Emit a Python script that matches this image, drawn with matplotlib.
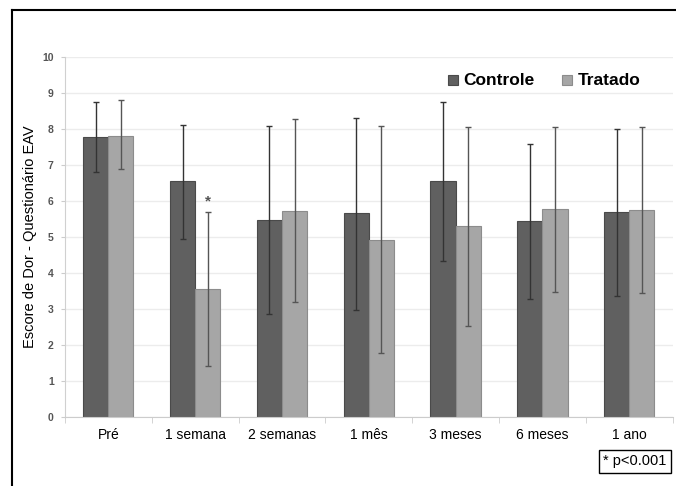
import numpy as np
import matplotlib.pyplot as plt
from matplotlib.lines import Line2D

categorias = ["Pré", "1 semana", "2 semanas", "1 mês", "3 meses", "6 meses", "1 ano"]

controle = [7.78, 6.54, 5.47, 5.66, 6.54, 5.44, 5.69]
controle_baixo = [6.80, 4.94, 2.85, 2.97, 4.33, 3.28, 3.37]
controle_alto = [8.76, 8.11, 8.08, 8.31, 8.76, 7.58, 8.00]

tratado = [7.81, 3.55, 5.73, 4.92, 5.29, 5.77, 5.74]
tratado_baixo = [6.88, 1.42, 3.19, 1.79, 2.54, 3.46, 3.45]
tratado_alto = [8.79, 5.68, 8.28, 8.07, 8.05, 8.06, 8.04]

plt.rcParams['font.family'] = ['Liberation Sans', 'DejaVu Sans']

fig = plt.figure(figsize=(6.76, 4.86), dpi=100)
ax = fig.add_axes([0.096, 0.142, 0.899, 0.741])

x = np.arange(len(categorias))
w = 0.29
c1 = np.array(controle)
t1 = np.array(tratado)
err_c = [c1 - np.array(controle_baixo), np.array(controle_alto) - c1]
err_t = [t1 - np.array(tratado_baixo), np.array(tratado_alto) - t1]

ax.bar(x - w/2, controle, w, color="#606060", edgecolor="#4a4a4a", linewidth=0.8,
       label="Controle", zorder=2)
ax.bar(x + w/2, tratado, w, color="#a6a6a6", edgecolor="#8c8c8c", linewidth=0.8,
       label="Tratado", zorder=2)
ax.errorbar(x - w/2, controle, yerr=err_c, fmt="none", ecolor="#333333",
            elinewidth=1.0, capsize=2, capthick=1.0, zorder=3)
ax.errorbar(x + w/2, tratado, yerr=err_t, fmt="none", ecolor="#555555",
            elinewidth=1.0, capsize=2, capthick=1.0, zorder=3)

# asterisco de significancia
ax.text(x[1] + w/2, tratado_alto[1] + 0.3, "*", ha="center", va="center",
        fontsize=11, color="#555555", fontweight="bold")

ax.set_ylim(0, 10)
ax.set_xlim(-0.5, len(categorias) - 0.5)
ax.set_yticks(range(0, 11))
ax.set_yticklabels([str(i) for i in range(0, 11)], fontsize=7.5,
                   fontweight="bold", color="#555555")
ax.set_xticks(x)
ax.set_xticklabels(categorias, fontsize=10)
ax.set_xticks(np.arange(-0.5, len(categorias)), minor=True)
ax.tick_params(axis="x", which="major", length=0, pad=8)
ax.tick_params(axis="x", which="minor", length=4, color="#cccccc")
ax.tick_params(axis="y", length=3, color="#cccccc", pad=5)
ax.grid(axis="y", color="#ececec", linewidth=1.0, zorder=0)
for s in ["top", "right"]:
    ax.spines[s].set_visible(False)
ax.spines["left"].set_color("#d0d0d0")
ax.spines["bottom"].set_color("#cccccc")

ax.set_ylabel("Escore de Dor - Questionário EAV", fontsize=10.5, labelpad=4)

leg = ax.legend(loc="upper right", bbox_to_anchor=(0.962, 0.978), ncol=2, frameon=False,
                prop={"size": 12.5, "weight": "bold"}, handlelength=0.6,
                handleheight=0.6, handletextpad=0.3, columnspacing=1.6, borderpad=0)
for h in leg.legend_handles:
    h.set_height(7)
    h.set_width(7)

fig.text(0.939, 0.051, "* p<0.001", ha="center", va="center", fontsize=10.5,
         bbox=dict(boxstyle="square,pad=0.3", facecolor="white", edgecolor="black",
                   linewidth=1.0))

# moldura da figura
fig.add_artist(Line2D([0.018, 0.018], [0, 0.979], color="black", linewidth=1.5,
                      transform=fig.transFigure))
fig.add_artist(Line2D([0.018, 1.0], [0.979, 0.979], color="black", linewidth=1.5,
                      transform=fig.transFigure))

plt.savefig("out.png", dpi=100)
plt.close()
